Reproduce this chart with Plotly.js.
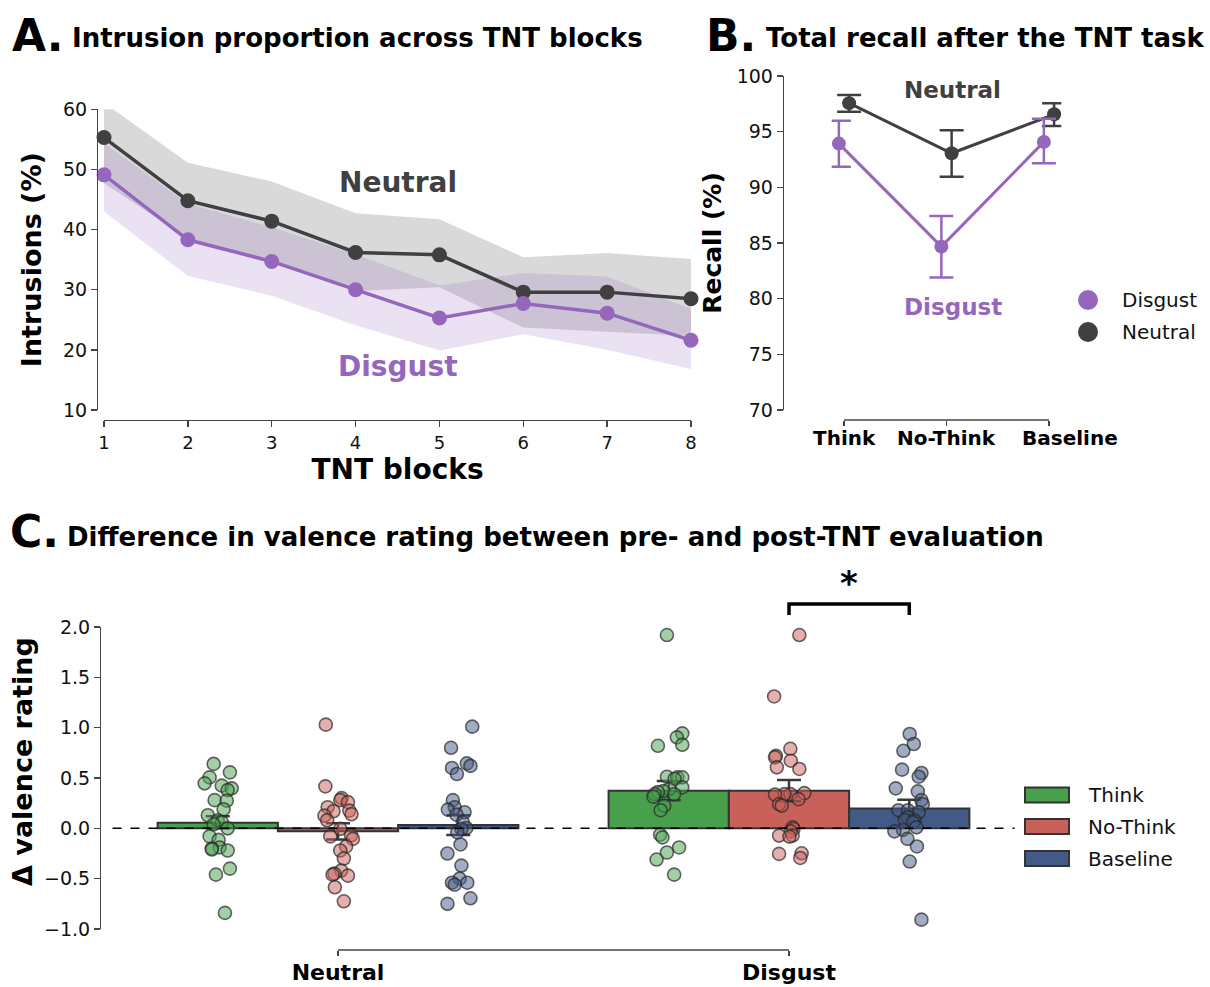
<!DOCTYPE html>
<html><head><meta charset="utf-8">
<script src="https://cdn.plot.ly/plotly-3.0.1.min.js"></script>
<style>html,body{margin:0;padding:0;background:#fff}#chart{width:1210px;height:987px}</style>
</head><body><div id="chart"></div>
<script>
// ---------- Panel A: intrusions across TNT blocks ----------
const blocks = [1, 2, 3, 4, 5, 6, 7, 8];
const neutralIntr   = [55.3, 44.8, 41.4, 36.2, 35.8, 29.6, 29.6, 28.5];
const neutralIntrLo = [47.7, 38.5, 34.8, 29.8, 30.4, 23.7, 23.0, 22.3];
const neutralIntrHi = [61.1, 51.1, 48.0, 42.7, 41.7, 35.4, 36.1, 35.1];
const disgustIntr   = [49.1, 38.3, 34.7, 30.0, 25.3, 27.7, 26.1, 21.6];
const disgustIntrLo = [43.0, 32.3, 29.0, 24.1, 19.9, 22.6, 20.0, 16.8];
const disgustIntrHi = [54.4, 44.3, 40.4, 35.9, 30.7, 32.8, 32.2, 26.8];

// ---------- Panel B: total recall ----------
const conditions = ['Think', 'No-Think', 'Baseline'];
const neutralRecall   = [97.56, 93.06, 96.56];
const neutralRecallLo = [96.80, 90.96, 95.52];
const neutralRecallHi = [98.30, 95.13, 97.56];
const disgustRecall   = [93.93, 84.67, 94.08];
const disgustRecallLo = [91.86, 81.90, 92.16];
const disgustRecallHi = [95.97, 87.43, 96.17];

// ---------- Panel C: valence rating difference ----------
const valenceGroups = ['Neutral', 'Disgust'];
const valenceConds = ['Think', 'No-Think', 'Baseline'];
const thinkMean    = [0.055, 0.374];
const thinkLo      = [0.000, 0.278];
const thinkHi      = [0.120, 0.470];
const noThinkMean  = [-0.030, 0.374];
const noThinkLo    = [-0.110, 0.270];
const noThinkHi    = [0.050, 0.480];
const baselineMean = [0.034, 0.196];
const baselineLo   = [-0.065, 0.110];
const baselineHi   = [0.130, 0.285];

// individual participants (values) and their strip jitter
const neutralThinkPts = [0.64,0.556,0.506,0.447,0.424,0.397,0.38,0.28,0.275,0.19,0.13,0.08,0.06,0.04,0.0,-0.08,-0.115,-0.19,-0.20,-0.21,-0.22,-0.40,-0.46,-0.84];
const neutralThinkJit = [-0.009,0.027,-0.018,-0.029,0.009,0.031,0.022,-0.007,0.020,0.013,-0.022,0,0.009,-0.009,0.022,-0.018,0.002,0.004,-0.013,-0.013,0.022,0.027,-0.004,0.016];
const neutralNoThinkPts = [1.03,0.417,0.30,0.28,0.26,0.21,0.176,0.17,0.14,0.126,0.08,-0.005,-0.07,-0.08,-0.105,-0.18,-0.22,-0.30,-0.42,-0.45,-0.46,-0.47,-0.585,-0.725];
const neutralNoThinkJit = [-0.027,-0.028,0.008,0.005,0.022,-0.023,0.025,-0.010,0.030,-0.030,-0.024,0.005,0.029,-0.017,0.033,0.018,0.005,0.013,0.007,-0.008,-0.012,0.022,-0.007,0.013];
const neutralBaselinePts = [1.01,0.80,0.645,0.62,0.60,0.54,0.28,0.21,0.186,0.16,0.136,0.06,0.004,-0.006,-0.04,-0.16,-0.25,-0.37,-0.50,-0.54,-0.54,-0.56,-0.695,-0.75];
const neutralBaselineJit = [0.031,-0.016,0.019,0.027,-0.014,-0.003,-0.012,-0.008,-0.023,0.014,-0.004,0.010,0.018,0.007,-0.002,0.005,-0.024,0.007,0.003,0.020,-0.014,-0.008,0.027,-0.024];
const disgustThinkPts = [1.92,0.943,0.904,0.83,0.82,0.513,0.506,0.506,0.49,0.407,0.39,0.37,0.36,0.34,0.34,0.315,0.225,0.18,-0.063,-0.09,-0.19,-0.24,-0.31,-0.46];
const disgustThinkJit = [-0.004,0.030,0.018,0.030,-0.024,-0.004,0.019,0.030,0.013,0.030,0.001,-0.012,-0.024,0.012,-0.031,-0.034,-0.010,-0.018,-0.019,-0.014,0.023,-0.004,-0.027,0.012];
const disgustNoThinkPts = [1.92,1.31,0.79,0.72,0.705,0.672,0.606,0.59,0.35,0.34,0.34,0.335,0.29,0.24,0.226,0.01,-0.006,-0.03,-0.072,-0.072,-0.082,-0.248,-0.254,-0.294];
const disgustNoThinkJit = [0.023,-0.033,0.003,-0.029,-0.031,0.004,-0.027,0.023,0.034,0.003,-0.010,-0.031,0.021,-0.022,-0.016,0.008,0.010,0.004,-0.022,0.008,0.001,0.028,-0.022,0.025];
const disgustBaselinePts = [0.937,0.838,0.77,0.583,0.55,0.513,0.397,0.367,0.28,0.24,0.18,0.18,0.16,0.11,0.083,0.077,0.06,0.01,-0.016,-0.03,-0.105,-0.18,-0.33,-0.907];
const disgustBaselineJit = [0.001,0.010,-0.013,-0.016,0.027,0.021,-0.030,0.019,0.027,0.030,-0.024,-0.003,0.021,-0.003,-0.010,0.012,0.008,0.016,-0.014,-0.033,-0.004,0.017,0.001,0.027];

// ---------- styling ----------
const W = 1210, H = 987;
const px = x => x / W;
const py = y => 1 - y / H;
const FONT = 'DejaVu Sans';
const PURPLE = '#9467bd', DARK = '#404040';
const CCOL = ['#48a04d', '#c9605a', '#445a86'];
const CPTS = ['rgba(72,160,77,0.5)', 'rgba(201,96,90,0.5)', 'rgba(68,90,134,0.5)'];
const SPINE = '#444';
const barW = 0.8 / 3;
const dodge = 0.05;
const labelShift = [0, 0, 0.2];   // the source nudges the last condition label right

const traces = [];

// Panel A bands
function band(lo, hi, color) {
  return {x: blocks.concat(blocks.slice().reverse()), y: hi.concat(lo.slice().reverse()),
    fill: 'toself', fillcolor: color, line: {width: 0}, mode: 'lines', hoverinfo: 'skip',
    xaxis: 'x', yaxis: 'y'};
}
traces.push(band(neutralIntrLo, neutralIntrHi, 'rgba(64,64,64,0.2)'));
traces.push(band(disgustIntrLo, disgustIntrHi, 'rgba(148,103,189,0.2)'));
traces.push({x: blocks, y: neutralIntr, mode: 'lines+markers', name: 'Neutral',
  line: {color: DARK, width: 3.5}, marker: {color: DARK, size: 15}, cliponaxis: false, xaxis: 'x', yaxis: 'y'});
traces.push({x: blocks, y: disgustIntr, mode: 'lines+markers', name: 'Disgust',
  line: {color: PURPLE, width: 3.5}, marker: {color: PURPLE, size: 15}, cliponaxis: false, xaxis: 'x', yaxis: 'y'});

// Panel B
function recallTrace(vals, lo, hi, off, color, name) {
  return {x: conditions.map((c, i) => i + off), y: vals, mode: 'lines+markers', name: name,
    line: {color: color, width: 3}, marker: {color: color, size: 14}, cliponaxis: false,
    error_y: {type: 'data', symmetric: false, array: hi.map((h, i) => h - vals[i]),
      arrayminus: lo.map((l, i) => vals[i] - l), color: color, thickness: 2.5, width: 12},
    xaxis: 'x2', yaxis: 'y2'};
}
traces.push(recallTrace(neutralRecall, neutralRecallLo, neutralRecallHi, dodge, DARK, 'Neutral'));
traces.push(recallTrace(disgustRecall, disgustRecallLo, disgustRecallHi, -dodge, PURPLE, 'Disgust'));

// Panel C bars
const means = [thinkMean, noThinkMean, baselineMean];
const los = [thinkLo, noThinkLo, baselineLo];
const his = [thinkHi, noThinkHi, baselineHi];
valenceConds.forEach((c, k) => {
  traces.push({type: 'bar', name: c, x: [0, 1], y: means[k], offsetgroup: String(k),
    marker: {color: CCOL[k], line: {color: '#333', width: 2}},
    error_y: {type: 'data', symmetric: false, array: his[k].map((h, i) => h - means[k][i]),
      arrayminus: los[k].map((l, i) => means[k][i] - l), color: '#3a3a3a', thickness: 2.5, width: 12},
    xaxis: 'x3', yaxis: 'y3'});
});
// Panel C strips
const ptsSets = [
  [neutralThinkPts, neutralThinkJit, disgustThinkPts, disgustThinkJit],
  [neutralNoThinkPts, neutralNoThinkJit, disgustNoThinkPts, disgustNoThinkJit],
  [neutralBaselinePts, neutralBaselineJit, disgustBaselinePts, disgustBaselineJit]];
ptsSets.forEach((s, k) => {
  const off = (k - 1) * barW;
  const xs = s[1].map(j => 0 + off + j).concat(s[3].map(j => 1 + off + j));
  const ys = s[0].concat(s[2]);
  traces.push({x: xs, y: ys, mode: 'markers', name: valenceConds[k],
    marker: {color: CPTS[k], size: 13, line: {color: 'rgba(40,40,40,0.7)', width: 1.6}},
    xaxis: 'x3', yaxis: 'y3'});
});

const axBase = {showgrid: false, zeroline: false, showline: true, linecolor: SPINE, linewidth: 1.3,
  ticks: 'outside', ticklen: 6, tickwidth: 1.3, tickcolor: SPINE, automargin: false, fixedrange: true, tickangle: 0};

// Panel B x axis: 0..2 spans 844..1049 px; widened so dodged markers stay visible
const bLeft = 844, bUnit = (1049 - 844) / 2;
const bPad = 0.12;

const annotations = [
  {xref: 'paper', yref: 'paper', x: px(10), y: py(35), xanchor: 'left', yanchor: 'middle', showarrow: false,
   text: 'A.', font: {size: 44, weight: 'bold', color: '#000'}},
  {xref: 'paper', yref: 'paper', x: px(70), y: py(38), xanchor: 'left', yanchor: 'middle', showarrow: false,
   text: 'Intrusion proportion across TNT blocks', font: {size: 26, weight: 'bold', color: '#000'}},
  {xref: 'paper', yref: 'paper', x: px(704), y: py(35), xanchor: 'left', yanchor: 'middle', showarrow: false,
   text: 'B.', font: {size: 44, weight: 'bold', color: '#000'}},
  {xref: 'paper', yref: 'paper', x: px(764), y: py(38), xanchor: 'left', yanchor: 'middle', showarrow: false,
   text: 'Total recall after the TNT task', font: {size: 26, weight: 'bold', color: '#000'}},
  {xref: 'paper', yref: 'paper', x: px(8), y: py(531), xanchor: 'left', yanchor: 'middle', showarrow: false,
   text: 'C.', font: {size: 44, weight: 'bold', color: '#000'}},
  {xref: 'paper', yref: 'paper', x: px(65), y: py(537), xanchor: 'left', yanchor: 'middle', showarrow: false,
   text: 'Difference in valence rating between pre- and post-TNT evaluation', font: {size: 26, weight: 'bold', color: '#000'}},
  // C y-axis title (centred a little above the axis middle, as in the source)
  {xref: 'paper', yref: 'paper', x: px(22), y: py(762), xanchor: 'center', yanchor: 'middle', textangle: -90, showarrow: false,
   text: 'Δ valence rating', font: {size: 27, weight: 'bold', color: '#000'}},
  // A inline labels
  {xref: 'x', yref: 'y', x: 4.5, y: 47.8, showarrow: false, text: 'Neutral', font: {size: 28, weight: 'bold', color: DARK}},
  {xref: 'x', yref: 'y', x: 4.5, y: 17.3, showarrow: false, text: 'Disgust', font: {size: 28, weight: 'bold', color: PURPLE}},
  // B inline labels
  {xref: 'x2', yref: 'y2', x: 1.063, y: 98.75, showarrow: false, text: 'Neutral', font: {size: 23, weight: 'bold', color: DARK}},
  {xref: 'x2', yref: 'y2', x: 1.063, y: 79.25, showarrow: false, text: 'Disgust', font: {size: 23, weight: 'bold', color: PURPLE}},
  // B legend
  {xref: 'paper', yref: 'paper', x: px(1120), y: py(300), xanchor: 'left', yanchor: 'middle', showarrow: false, text: 'Disgust', font: {size: 20}},
  {xref: 'paper', yref: 'paper', x: px(1120), y: py(332), xanchor: 'left', yanchor: 'middle', showarrow: false, text: 'Neutral', font: {size: 20}},
  // C legend
  {xref: 'paper', yref: 'paper', x: px(1086), y: py(795), xanchor: 'left', yanchor: 'middle', showarrow: false, text: 'Think', font: {size: 20}},
  {xref: 'paper', yref: 'paper', x: px(1086), y: py(827), xanchor: 'left', yanchor: 'middle', showarrow: false, text: 'No-Think', font: {size: 20}},
  {xref: 'paper', yref: 'paper', x: px(1086), y: py(859), xanchor: 'left', yanchor: 'middle', showarrow: false, text: 'Baseline', font: {size: 20}},
  // significance star
  {xref: 'x3', yref: 'paper', x: 1 + barW / 2, y: py(583), showarrow: false, text: '*', font: {size: 34, weight: 'bold', color: '#000'}}
];
// B condition labels (drawn as text under the ticks)
conditions.forEach((c, i) => annotations.push({xref: 'paper', yref: 'paper', x: px(bLeft + (i + labelShift[i]) * bUnit), y: py(438),
  xanchor: 'center', yanchor: 'middle', showarrow: false, text: c, font: {size: 20, weight: 'bold', color: '#000'}}));

const layout = {
  width: W, height: H, margin: {l: 0, r: 0, t: 0, b: 0},
  paper_bgcolor: '#fff', plot_bgcolor: 'rgba(0,0,0,0)',
  font: {family: FONT, color: '#111'}, showlegend: false,
  barmode: 'group', bargap: 0.2, bargroupgap: 0,
  xaxis: Object.assign({}, axBase, {domain: [px(104), px(691)], range: [1, 8], anchor: 'free', position: py(420),
    tickvals: blocks, tickfont: {size: 18},
    title: {text: 'TNT blocks', font: {size: 28, weight: 'bold', color: '#000'}, standoff: 4}}),
  yaxis: Object.assign({}, axBase, {domain: [py(410), py(109.3)], range: [10, 60], anchor: 'free', position: px(97),
    tickvals: [10, 20, 30, 40, 50, 60], tickfont: {size: 19},
    title: {text: 'Intrusions (%)', font: {size: 27, weight: 'bold', color: '#000'}, standoff: 12}}),
  xaxis2: Object.assign({}, axBase, {domain: [px(bLeft - bPad * bUnit), px(bLeft + (2 + bPad) * bUnit)], range: [-bPad, 2 + bPad],
    anchor: 'free', position: py(420), showline: false, ticklen: 5, showticklabels: false,
    tickvals: [0, 1, 2]}),
  yaxis2: Object.assign({}, axBase, {domain: [py(410), py(76)], range: [70, 100], anchor: 'free', position: px(782.7),
    tickvals: [70, 75, 80, 85, 90, 95, 100], tickfont: {size: 19},
    title: {text: 'Recall (%)', font: {size: 25, weight: 'bold', color: '#000'}, standoff: 6}}),
  xaxis3: Object.assign({}, axBase, {domain: [px(112.5), px(1014.5)], range: [-0.5, 1.5], anchor: 'free', position: py(950),
    showline: false, ticklen: 5, ticklabelstandoff: -2, tickvals: [0, 1], ticktext: valenceGroups,
    tickfont: {size: 22, weight: 'bold', color: '#000'}}),
  yaxis3: Object.assign({}, axBase, {domain: [py(929), py(627)], range: [-1, 2], anchor: 'free', position: px(100),
    tickvals: [-1, -0.5, 0, 0.5, 1, 1.5, 2], tickformat: '.1f', tickfont: {size: 19}}),
  shapes: [
    // B: x spine between outer condition ticks
    {type: 'line', xref: 'x2', yref: 'paper', x0: 0, x1: 2, y0: py(420), y1: py(420), line: {color: SPINE, width: 1.3}},
    // C: x spine between group ticks
    {type: 'line', xref: 'x3', yref: 'paper', x0: 0, x1: 1, y0: py(950), y1: py(950), line: {color: SPINE, width: 1.3}},
    // C: zero reference line
    {type: 'line', xref: 'x3 domain', yref: 'y3', x0: 0, x1: 1, y0: 0, y1: 0, line: {color: '#000', width: 1.5, dash: 'dash'}},
    // C: significance bracket between Disgust No-Think and Baseline
    {type: 'path', xref: 'x3', yref: 'paper',
     path: `M 1,${py(615)} L 1,${py(604)} L ${1 + barW},${py(604)} L ${1 + barW},${py(615)}`,
     line: {color: '#000', width: 3.5}},
    // B legend markers
    {type: 'circle', xref: 'paper', yref: 'paper', x0: px(1078), x1: px(1098), y0: py(310), y1: py(290), fillcolor: PURPLE, line: {width: 0}},
    {type: 'circle', xref: 'paper', yref: 'paper', x0: px(1078), x1: px(1098), y0: py(342), y1: py(322), fillcolor: DARK, line: {width: 0}},
    // C legend patches
    {type: 'rect', xref: 'paper', yref: 'paper', x0: px(1025), x1: px(1069), y0: py(802.5), y1: py(787.5), fillcolor: CCOL[0], line: {color: '#333', width: 2}},
    {type: 'rect', xref: 'paper', yref: 'paper', x0: px(1025), x1: px(1069), y0: py(834), y1: py(819), fillcolor: CCOL[1], line: {color: '#333', width: 2}},
    {type: 'rect', xref: 'paper', yref: 'paper', x0: px(1025), x1: px(1069), y0: py(866), y1: py(851), fillcolor: CCOL[2], line: {color: '#333', width: 2}}
  ],
  annotations: annotations
};

Plotly.newPlot('chart', traces, layout, {displayModeBar: false, staticPlot: true});
</script>
</body></html>
